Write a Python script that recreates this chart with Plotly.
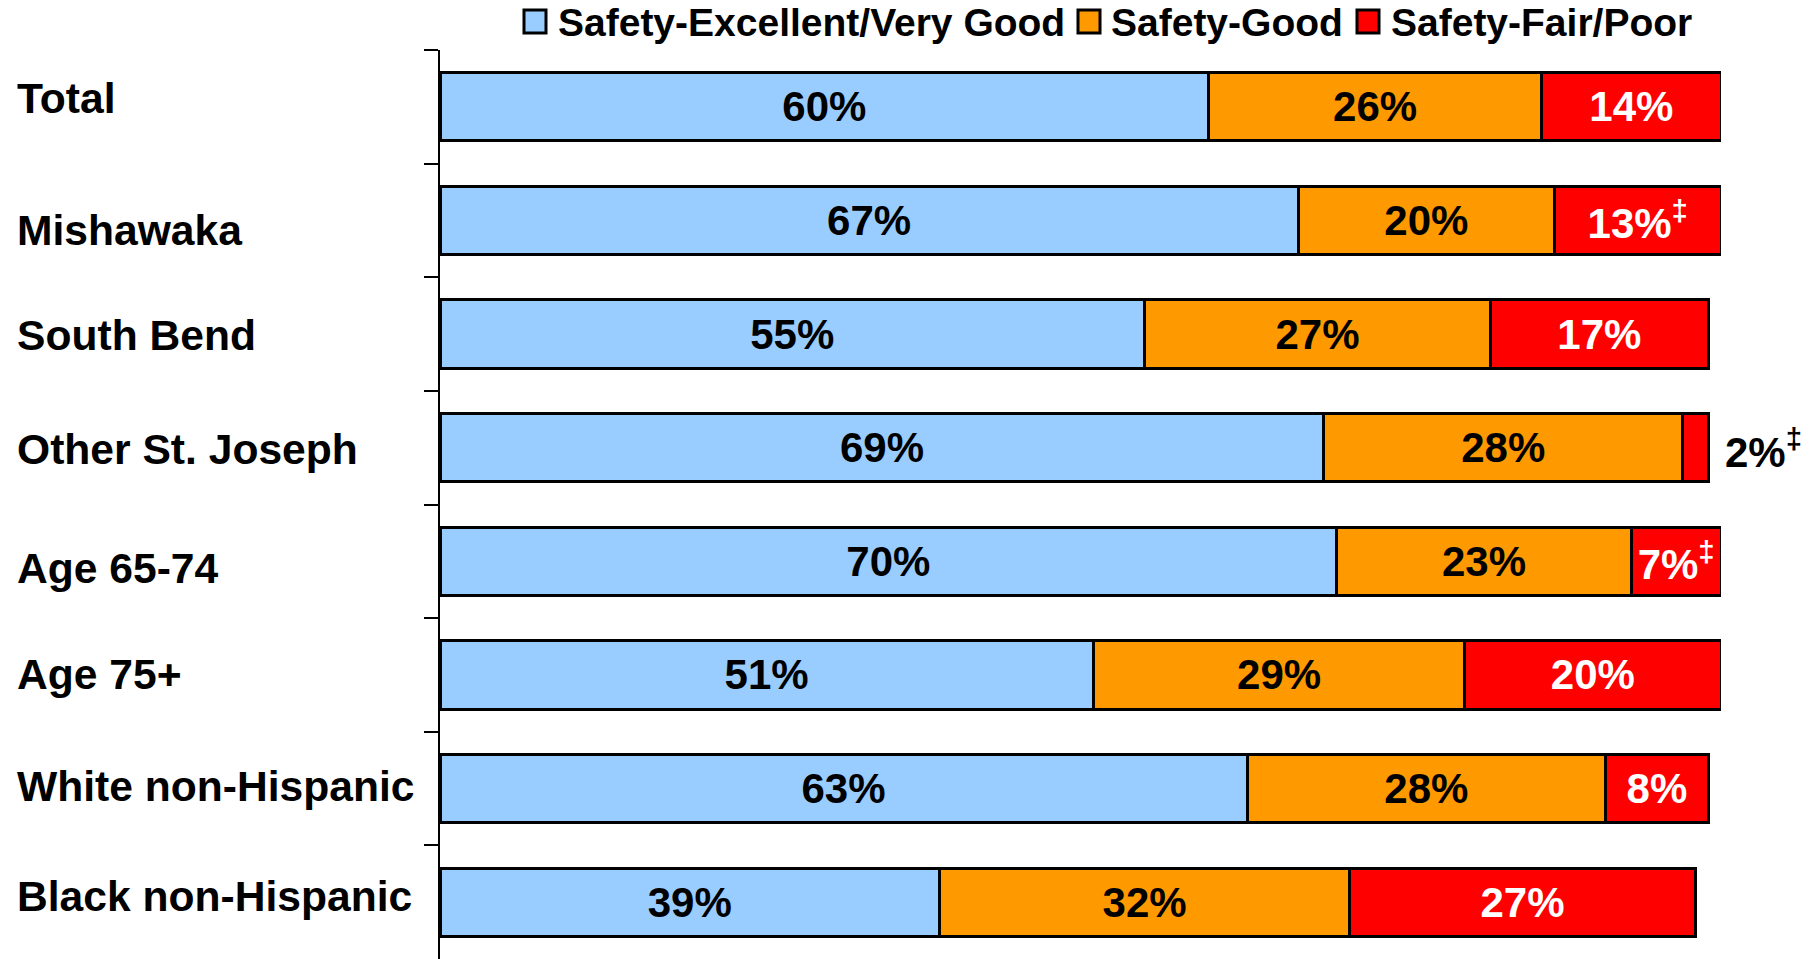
import plotly.graph_objects as go

categories = ["Total", "Mishawaka", "South Bend", "Other St. Joseph",
              "Age 65-74", "Age 75+", "White non-Hispanic", "Black non-Hispanic"]
excellent = [60, 67, 55, 69, 70, 51, 63, 39]
good = [26, 20, 27, 28, 23, 29, 28, 32]
fair = [14, 13, 17, 2, 7, 20, 8, 27]
fair_notes = ["", "\u2021", "", "\u2021", "\u2021", "", "", ""]
fair_outside = [False, False, False, True, False, False, False, False]
series_names = ["Safety-Excellent/Very Good", "Safety-Good", "Safety-Fair/Poor"]
series_colors = ["#99CCFF", "#FF9900", "#FF0000"]

# style-only offsets for the row labels (pixels)
label_yshift = [9, -10, -1, -1, -7, 1, 3, 6]

FONT = "Liberation Sans, Arial, sans-serif"
OFF = 8  # default page body margin
W, H = 1820 - OFF, 959 - OFF
ML, MR, MT, MB = 440 - OFF, 99, 50 - OFF, 0

def px_x(px):  # page pixel -> paper x
    return (px - OFF - ML) / (W - ML - MR)

def px_y(py):  # page pixel -> paper y
    return (H - MB - (py - OFF)) / (H - MT - MB)

def pct(vals, notes=None):
    out = []
    for i, v in enumerate(vals):
        s = f"{v}%"
        if notes and notes[i]:
            s += f"<sup>{notes[i]}</sup>"
        out.append(s)
    return out

fig = go.Figure()
fig.add_trace(go.Bar(
    y=categories, x=excellent, orientation="h", name=series_names[0],
    marker=dict(color=series_colors[0], line=dict(color="black", width=3)),
    text=pct(excellent), textposition="inside", insidetextanchor="middle",
    textangle=0, constraintext="none",
    insidetextfont=dict(family=FONT, size=42, color="black", weight="bold"),
))
fig.add_trace(go.Bar(
    y=categories, x=good, orientation="h", name=series_names[1],
    marker=dict(color=series_colors[1], line=dict(color="black", width=3)),
    text=pct(good), textposition="inside", insidetextanchor="middle",
    textangle=0, constraintext="none",
    insidetextfont=dict(family=FONT, size=42, color="black", weight="bold"),
))
fair_text = pct(fair, fair_notes)
fig.add_trace(go.Bar(
    y=categories, x=fair, orientation="h", name=series_names[2],
    marker=dict(color=series_colors[2], line=dict(color="black", width=3)),
    text=["" if o else t for t, o in zip(fair_text, fair_outside)],
    textposition="inside",
    insidetextanchor="middle", textangle=0, constraintext="none",
    insidetextfont=dict(family=FONT, size=42, color="white", weight="bold"),
))

# labels of the tiny segments, placed just right of the bar end
for i, cat in enumerate(categories):
    if fair_outside[i]:
        fig.add_annotation(
            x=excellent[i] + good[i] + fair[i], y=cat, xref="x", yref="y",
            text=fair_text[i], showarrow=False, xanchor="left", yanchor="middle",
            xshift=15, yshift=-1,
            font=dict(family=FONT, size=42, color="black", weight="bold"),
        )

# row labels, left-aligned
for cat, ys in zip(categories, label_yshift):
    fig.add_annotation(
        x=px_x(15), xref="paper", y=cat, yref="y", text=cat, showarrow=False,
        xanchor="left", yanchor="middle", yshift=ys,
        font=dict(family=FONT, size=42.6, color="black", weight="bold"),
    )

# custom legend (large square swatches)
legend_sq = [(524, 546), (1078, 1100), (1357, 1379)]
legend_tx = [556, 1109, 1389]
for name, color, (x0, x1), tx in zip(series_names, series_colors, legend_sq, legend_tx):
    fig.add_shape(type="rect", xref="paper", yref="paper",
                  x0=px_x(x0), x1=px_x(x1), y0=px_y(33), y1=px_y(10),
                  fillcolor=color, line=dict(color="black", width=3))
    fig.add_annotation(
        x=px_x(tx), xref="paper", y=px_y(23), yref="paper", text=name,
        showarrow=False, xanchor="left", yanchor="middle",
        font=dict(family=FONT, size=39, color="black", weight="bold"),
    )

fig.update_layout(
    width=W, height=H,
    margin=dict(l=ML, r=MR, t=MT, b=MB, autoexpand=False),
    barmode="stack", bargap=0.4,
    plot_bgcolor="white", paper_bgcolor="white",
    showlegend=False,
    xaxis=dict(visible=False, range=[0, 100]),
    yaxis=dict(autorange="reversed", showline=True, linecolor="black", linewidth=2,
               ticks="outside", ticklen=14, tickwidth=2, tickcolor="black",
               tickson="boundaries", showticklabels=False, showgrid=False, zeroline=False),
)

fig.write_html("out.html")
